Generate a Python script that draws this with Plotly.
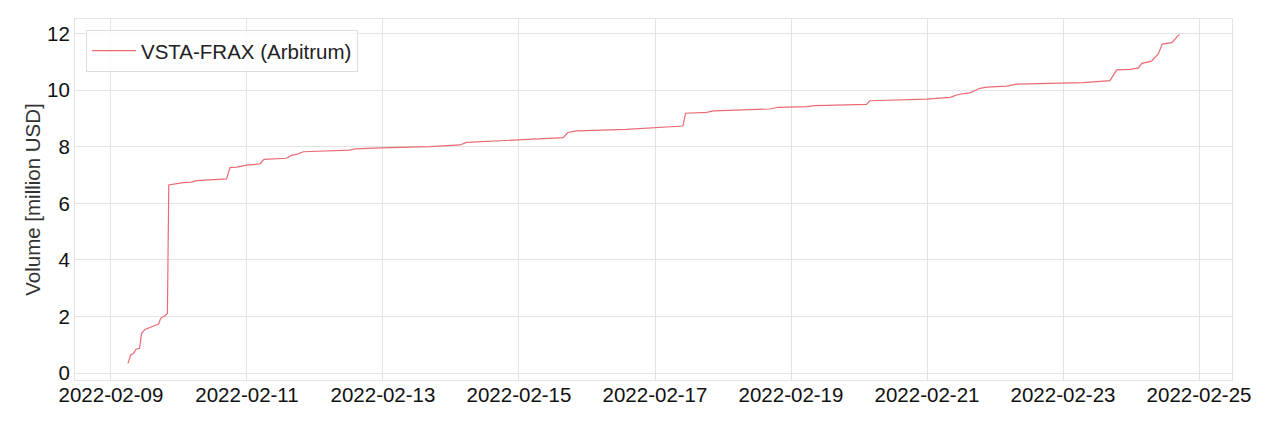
import plotly.graph_objects as go
import pandas as pd

# day offsets from 2022-02-09 00:00 and cumulative volume (million USD)
day_offsets = [0.25, 0.29, 0.33, 0.37, 0.42, 0.45, 0.50, 0.60, 0.70, 0.73, 0.79, 0.83, 0.85,
               1.06, 1.18, 1.26, 1.70, 1.75, 1.85, 2.00, 2.19, 2.25, 2.58, 2.66, 2.73, 2.83,
               3.51, 3.59, 3.96, 4.69, 5.13, 5.23, 6.01, 6.26, 6.65, 6.72, 6.85, 7.58, 7.97,
               8.41, 8.45, 8.76, 8.86, 9.69, 9.81, 10.23, 10.35, 11.11, 11.16, 11.99, 12.34,
               12.46, 12.63, 12.78, 12.88, 13.17, 13.32, 14.30, 14.69, 14.79, 14.99, 15.11,
               15.16, 15.30, 15.40, 15.46, 15.60, 15.71]
volume = [0.35, 0.65, 0.70, 0.85, 0.88, 1.41, 1.55, 1.65, 1.74, 1.94, 2.02, 2.12, 6.65,
          6.73, 6.75, 6.80, 6.86, 7.26, 7.28, 7.35, 7.39, 7.55, 7.59, 7.70, 7.73, 7.82,
          7.88, 7.92, 7.96, 8.00, 8.06, 8.15, 8.23, 8.27, 8.32, 8.50, 8.56, 8.61, 8.67,
          8.73, 9.18, 9.21, 9.26, 9.33, 9.39, 9.41, 9.45, 9.49, 9.62, 9.68, 9.74,
          9.84, 9.90, 10.06, 10.10, 10.14, 10.21, 10.26, 10.33, 10.71, 10.73, 10.78,
          10.94, 11.02, 11.27, 11.62, 11.67, 11.96]
series_name = "VSTA-FRAX (Arbitrum)"
tick_dates = ["2022-02-09", "2022-02-11", "2022-02-13", "2022-02-15", "2022-02-17",
              "2022-02-19", "2022-02-21", "2022-02-23", "2022-02-25"]
y_ticks = [0, 2, 4, 6, 8, 10, 12]

base = pd.Timestamp("2022-02-09")
times = [base + pd.Timedelta(days=d) for d in day_offsets]

fig = go.Figure()
fig.add_trace(go.Scatter(x=times, y=volume, mode="lines", name=series_name,
                         line=dict(color="#ea6a74", width=1.2)))

x0 = base + pd.Timedelta(days=-0.529)
x1 = base + pd.Timedelta(days=16.485)

font_family = "Liberation Sans, Arial, sans-serif"
fs = 20.5
fig.update_layout(
    width=1272, height=421,
    margin=dict(l=67, r=48, t=11, b=49, autoexpand=False),
    paper_bgcolor="white", plot_bgcolor="white",
    font=dict(family=font_family, size=fs, color="#222222"),
    showlegend=True,
    legend=dict(x=0.0095, y=0.97, xanchor="left", yanchor="top",
                bgcolor="rgba(255,255,255,0.8)", bordercolor="#dddddd", borderwidth=1,
                itemwidth=44, font=dict(size=fs, color="#222222")),
    xaxis=dict(range=[x0, x1], tickvals=[pd.Timestamp(t) for t in tick_dates],
               ticktext=tick_dates, showgrid=True, gridcolor="#e3e3e3", gridwidth=1,
               zeroline=False, showline=True, linecolor="#e3e3e3", mirror=True,
               ticks="", ticklabelstandoff=-4, automargin=False,
               tickfont=dict(size=fs, color="#111111")),
    yaxis=dict(range=[-0.236, 12.506], tickvals=y_ticks, showgrid=True,
               gridcolor="#e3e3e3", gridwidth=1, zeroline=False, showline=True,
               linecolor="#e3e3e3", mirror=True, ticks="", automargin=False,
               tickfont=dict(size=fs, color="#111111"),
               title=dict(text="Volume [million USD]", font=dict(size=fs, color="#333333"),
                          standoff=0)),
)

fig.write_html("out.html")
